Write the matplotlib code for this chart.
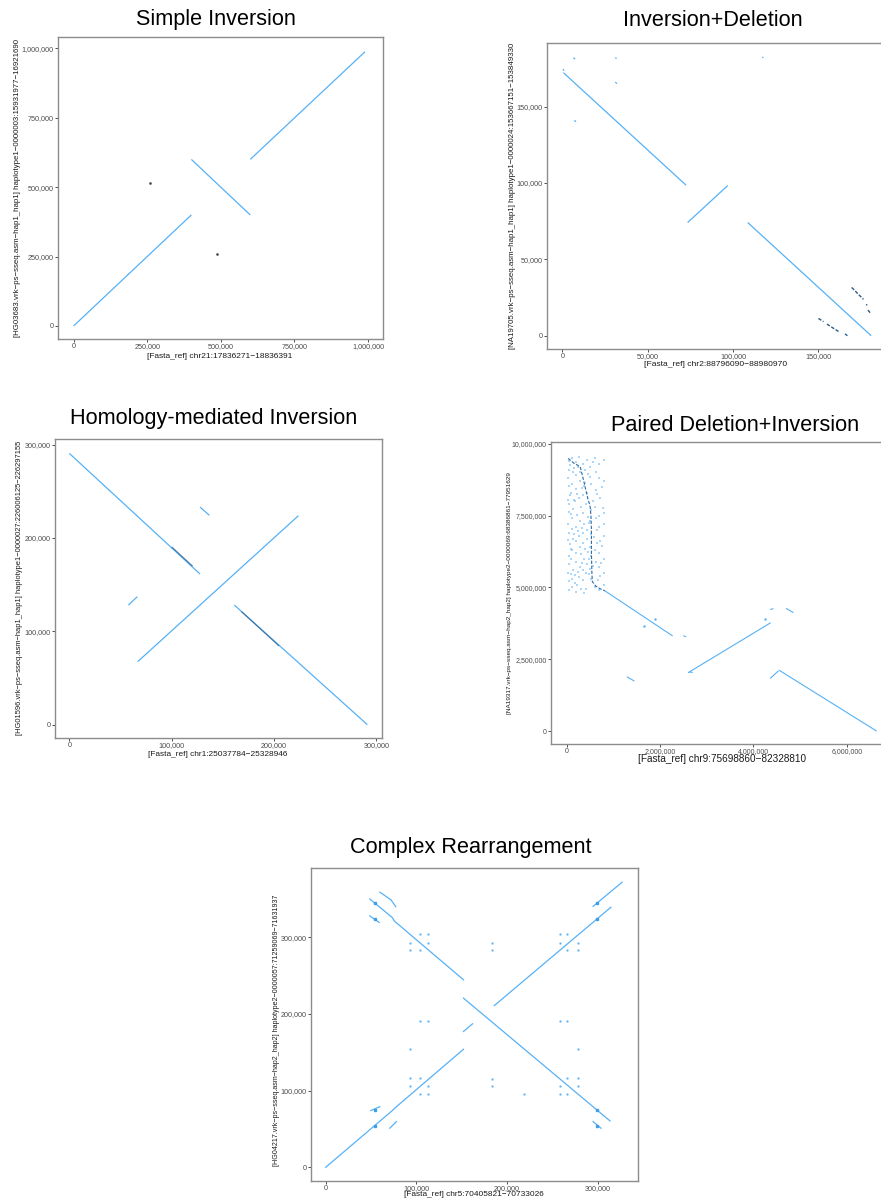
import matplotlib
matplotlib.use("Agg")
import matplotlib.pyplot as plt
from matplotlib.ticker import FixedLocator, StrMethodFormatter

plt.rcParams['font.family'] = ['Liberation Sans', 'DejaVu Sans']

W, H = 881, 1200
HI = '#56B1F7'    # high identity alignments
LO = '#2E5C86'    # lower identity alignments

# --- Simple Inversion -------------------------------------------------------
p1_segments = [(0, 0, 400000, 400000),
               (400000, 600000, 600000, 400000),
               (600000, 600000, 990000, 988000)]
p1_dots = [(258000, 514000), (486000, 258000)]
p1_ticks = [0, 250000, 500000, 750000, 1000000]

# --- Inversion+Deletion -----------------------------------------------------
p2_segments = [(600, 172200, 72500, 98500),
               (73400, 74100, 96900, 98300),
               (108600, 74100, 180900, 0),
               (300, 174500, 1000, 173500),
               (6500, 182000, 7500, 181000),
               (7000, 141000, 8000, 140000),
               (31000, 182000, 31800, 181500),
               (31000, 166000, 32000, 165000),
               (117000, 182300, 117800, 182000)]
p2_dark = [(169500, 31600, 176400, 23800),
           (178000, 20500, 178600, 19900),
           (179000, 16800, 180700, 14600),
           (150000, 11300, 153000, 9200),
           (155000, 7600, 162000, 2600),
           (165600, 1200, 167000, 0)]
p2_ticks = [0, 50000, 100000, 150000]

# --- Homology-mediated Inversion -------------------------------------------
p3_segments = [(0, 290700, 127700, 161400),
               (66800, 67500, 223800, 223900),
               (127700, 233200, 136800, 224300),
               (57700, 128200, 66400, 137100),
               (161200, 128200, 291200, 0)]
p3_dark = [(100000, 190500, 120500, 169800),
           (168000, 121300, 204900, 84300)]
p3_ticks = [0, 100000, 200000, 300000]

# --- Paired Deletion+Inversion (Mb) -----------------------------------------
p4_segments = [(0.82, 4.88, 2.27, 3.31),
               (2.50, 3.32, 2.56, 3.28),
               (2.60, 2.03, 4.37, 3.77),
               (2.62, 2.06, 2.70, 2.04),
               (4.36, 4.23, 4.43, 4.26),
               (4.70, 4.27, 4.86, 4.12),
               (1.29, 1.89, 1.45, 1.74),
               (4.36, 1.83, 4.54, 2.10),
               (4.55, 2.12, 6.64, 0.0)]
p4_dots = [(1.90, 3.90), (1.66, 3.65), (4.24, 3.90)]
p4_dark_x = [0.03, 0.15, 0.29, 0.36, 0.46, 0.50, 0.52, 0.53, 0.53, 0.54,
             0.55, 0.62, 0.72, 0.82]
p4_dark_y = [9.49, 9.33, 9.20, 8.74, 8.04, 7.85, 7.50, 7.00, 6.20, 5.50,
             5.20, 5.05, 4.95, 4.88]
# repeat-rich block of short hits near the start of the contig
p4_block = [
    (0.04, 9.40), (0.06, 9.10), (0.03, 8.80), (0.05, 8.52), (0.07, 8.20),
    (0.04, 7.90), (0.06, 7.62), (0.03, 7.22), (0.05, 6.90), (0.07, 6.52),
    (0.04, 6.10), (0.06, 5.80), (0.03, 5.50), (0.05, 5.22), (0.04, 4.90),
    (0.11, 9.50), (0.13, 9.02), (0.12, 8.60), (0.10, 8.30), (0.14, 7.72),
    (0.12, 7.40), (0.11, 7.02), (0.13, 6.70), (0.12, 6.30), (0.10, 6.00),
    (0.14, 5.60), (0.12, 5.30), (0.11, 5.00), (0.19, 9.35), (0.21, 8.90),
    (0.20, 8.42), (0.18, 8.00), (0.22, 7.52), (0.20, 7.10), (0.19, 6.62),
    (0.21, 6.20), (0.20, 5.90), (0.18, 5.42), (0.22, 5.10), (0.20, 4.85),
    (0.27, 9.55), (0.29, 9.02), (0.28, 8.70), (0.26, 8.12), (0.30, 7.80),
    (0.28, 7.30), (0.27, 6.80), (0.29, 6.42), (0.28, 5.70), (0.26, 5.35),
    (0.30, 4.95), (0.35, 9.30), (0.37, 8.52), (0.36, 8.20), (0.34, 7.60),
    (0.38, 7.22), (0.36, 6.90), (0.35, 6.55), (0.37, 6.00), (0.36, 5.60),
    (0.34, 5.25), (0.38, 4.80), (0.43, 9.45), (0.45, 8.95), (0.44, 8.30),
    (0.42, 7.90), (0.46, 7.45), (0.44, 7.00), (0.43, 6.70), (0.45, 6.22),
    (0.44, 5.80), (0.42, 5.50), (0.51, 9.20), (0.53, 8.60), (0.52, 7.70),
    (0.50, 7.30), (0.53, 6.85), (0.51, 6.40), (0.52, 6.10), (0.50, 5.65),
    (0.53, 5.30), (0.61, 9.50), (0.63, 9.00), (0.62, 8.40), (0.60, 7.80),
    (0.63, 7.40), (0.61, 6.30), (0.62, 5.90), (0.60, 5.00), (0.70, 9.30),
    (0.69, 8.80), (0.71, 8.10), (0.70, 7.50), (0.69, 7.10), (0.71, 6.60),
    (0.70, 6.20), (0.69, 5.70), (0.71, 5.40), (0.70, 4.90), (0.80, 9.45),
    (0.81, 8.70), (0.79, 7.60), (0.80, 7.20), (0.81, 6.80), (0.80, 6.00),
    (0.79, 5.50), (0.81, 5.10), (0.08, 9.25), (0.16, 8.05), (0.24, 6.95),
    (0.32, 5.85), (0.40, 9.10), (0.48, 6.00), (0.57, 8.00), (0.66, 7.00),
    (0.75, 8.50), (0.09, 6.35), (0.17, 5.15), (0.25, 9.20), (0.33, 7.05),
    (0.41, 4.95), (0.49, 8.85), (0.58, 6.75), (0.67, 5.25), (0.76, 6.45),
    (0.02, 8.05), (0.09, 7.55), (0.15, 6.85), (0.23, 8.25), (0.31, 6.15),
    (0.39, 8.65), (0.47, 5.45), (0.56, 9.35), (0.65, 6.55), (0.73, 5.85),
    (0.02, 6.65), (0.10, 5.45), (0.16, 9.15), (0.24, 5.55), (0.32, 8.45),
    (0.40, 6.35), (0.47, 7.25), (0.56, 5.75), (0.64, 8.25), (0.77, 7.75),
]
p4_xticks = [0, 2e6, 4e6, 6e6]
p4_yticks = [0, 2.5e6, 5e6, 7.5e6, 10e6]

# --- Complex Rearrangement --------------------------------------------------
p5_lines = [
    [(0, 0), (74000, 74500), (76000, 77000), (152000, 154000)],
    [(48700, 350000), (73300, 326000), (76000, 321000), (152000, 244700)],
    [(59700, 359000), (72000, 349000), (77300, 340000)],
    [(48600, 328000), (59000, 319500)],
    [(152000, 177200), (162000, 187200)],
    [(152000, 220700), (313600, 60500)],
    [(186000, 211000), (314600, 339300)],
    [(295000, 340500), (327000, 372000)],
    [(295000, 59600), (303600, 51000)],
    [(49800, 74000), (59700, 79000)],
    [(70700, 51000), (78000, 59600)],
]
p5_squares = [(54000, 54400), (299000, 54400), (54000, 344800), (299000, 344800),
              (54000, 324000), (299000, 324300), (299000, 75000), (54000, 75000)]
p5_dots = [(92700, 292700), (92700, 284000), (104400, 304800), (104400, 284000),
           (112800, 304800), (112800, 292700), (183000, 292700), (183000, 284000),
           (258600, 304800), (258600, 292700), (266700, 304800), (266700, 284000),
           (278800, 292700), (278800, 284000), (104400, 191000), (112800, 191000),
           (258600, 191000), (266700, 191000), (92700, 154000), (278800, 154000),
           (92700, 116000), (92700, 106000), (104400, 116000), (104400, 95000),
           (112800, 106000), (112800, 95000), (183000, 115000), (183000, 106000),
           (219000, 95000), (258600, 106000), (258600, 95000), (266700, 116000),
           (266700, 95000), (278800, 116000), (278800, 106000)]
p5_ticks = [0, 100000, 200000, 300000]


fig = plt.figure(figsize=(W / 100, H / 100), dpi=100)


def panel(left, top, right, bottom, tsize=5.2):
    ax = fig.add_axes([left / W, 1 - bottom / H, (right - left) / W, (bottom - top) / H])
    for s in ax.spines.values():
        s.set_color('#8c8c8c')
        s.set_linewidth(1.0)
    ax.tick_params(length=2.2, width=0.6, color='#333333', labelcolor='#4d4d4d',
                   labelsize=tsize, pad=1.0)
    ax.xaxis.set_major_formatter(StrMethodFormatter('{x:,.0f}'))
    ax.yaxis.set_major_formatter(StrMethodFormatter('{x:,.0f}'))
    return ax


def draw_segments(ax, segs, color=HI, lw=0.9, **kw):
    for x0, y0, x1, y1 in segs:
        ax.plot([x0, x1], [y0, y1], color=color, lw=lw, solid_capstyle='butt', **kw)


def label(x, y, s, size=6.0, rot=0):
    fig.text(x / W, 1 - y / H, s, fontsize=size, rotation=rot, color='#1a1a1a',
             ha='center', va='center')


def title(x, y, s):
    fig.text(x / W, 1 - y / H, s, fontsize=15.6, ha='center', va='center', color='black')


# Simple Inversion
ax1 = panel(58, 37, 383, 339)
draw_segments(ax1, p1_segments)
ax1.plot([p[0] for p in p1_dots], [p[1] for p in p1_dots], 's', ms=0.8, color='#444444')
ax1.set_xlim(-53000, 1051000)
ax1.set_ylim(-47000, 1041000)
ax1.xaxis.set_major_locator(FixedLocator(p1_ticks))
ax1.yaxis.set_major_locator(FixedLocator(p1_ticks))
title(216, 20, 'Simple Inversion')
label(220, 357, '[Fasta_ref] chr21:17836271\u221218836391', size=6.0)
label(18, 188, '[HG03683.vrk\u2212ps\u2212sseq.asm\u2212hap1_hap1] haplotype1\u22120000003:15931977\u221216921690',
      size=5.65, rot=90)

# Inversion+Deletion
ax2 = panel(547, 43, 887, 349)
draw_segments(ax2, p2_segments)
draw_segments(ax2, p2_dark, color=LO, lw=1.0, linestyle=(0, (2.5, 1.2)))
ax2.set_xlim(-9000, 190200)
ax2.set_ylim(-8700, 191600)
ax2.xaxis.set_major_locator(FixedLocator(p2_ticks))
ax2.yaxis.set_major_locator(FixedLocator(p2_ticks))
title(713, 20, 'Inversion+Deletion')
label(716, 365, '[Fasta_ref] chr2:88796090\u221288980970', size=6.1)
label(512, 196, '[NA19705.vrk\u2212ps\u2212sseq.asm\u2212hap1_hap1] haplotype1\u22120000024:153667151\u2212153849330',
      size=5.7, rot=90)

# Homology-mediated Inversion
ax3 = panel(55, 439, 382, 738)
draw_segments(ax3, p3_segments)
draw_segments(ax3, p3_dark, color=LO, lw=0.8, alpha=0.8)
ax3.set_xlim(-14000, 305500)
ax3.set_ylim(-14300, 306100)
ax3.xaxis.set_major_locator(FixedLocator(p3_ticks))
ax3.yaxis.set_major_locator(FixedLocator(p3_ticks))
title(214, 418, 'Homology-mediated Inversion')
label(218, 754, '[Fasta_ref] chr1:25037784\u221225328946', size=5.95)
label(20, 588, '[HG01596.vrk\u2212ps\u2212sseq.asm\u2212hap1_hap1] haplotype1\u22120000027:226006125\u2212226297155',
      size=5.4, rot=90)

# Paired Deletion+Inversion
ax4 = panel(551, 442, 892, 744, tsize=5.0)
ax4.scatter([p[0] * 1e6 for p in p4_block], [p[1] * 1e6 for p in p4_block],
            s=0.9, marker='s', color=HI, alpha=0.5, linewidths=0)
draw_segments(ax4, [(a * 1e6, b * 1e6, c * 1e6, d * 1e6) for a, b, c, d in p4_segments], lw=0.8)
ax4.plot([v * 1e6 for v in p4_dark_x], [v * 1e6 for v in p4_dark_y], color='#2f6ba3',
         lw=0.8, linestyle=(0, (3, 1.5)))
ax4.plot([p[0] * 1e6 for p in p4_dots], [p[1] * 1e6 for p in p4_dots], 's', ms=0.7, color=HI)
ax4.set_xlim(-0.336e6, 6.97e6)
ax4.set_ylim(-0.45e6, 10.06e6)
ax4.xaxis.set_major_locator(FixedLocator(p4_xticks))
ax4.yaxis.set_major_locator(FixedLocator(p4_yticks))
title(735, 425, 'Paired Deletion+Inversion')
label(722, 759, '[Fasta_ref] chr9:75698860\u221282328810', size=7.2)
label(509, 593, '[NA19317.vrk\u2212ps\u2212sseq.asm\u2212hap2_hap2] haplotype2\u22120000069:68386861\u221277951629',
      size=4.55, rot=90)

# Complex Rearrangement
ax5 = panel(311, 868, 638, 1181)
for line in p5_lines:
    ax5.plot([p[0] for p in line], [p[1] for p in line], color=HI, lw=0.9)
ax5.plot([p[0] for p in p5_squares], [p[1] for p in p5_squares], 's', ms=1.7, color='#3f9ee8')
ax5.plot([p[0] for p in p5_dots], [p[1] for p in p5_dots], 's', ms=0.7, color=HI, alpha=0.8)
ax5.set_xlim(-16200, 344500)
ax5.set_ylim(-17900, 390500)
ax5.xaxis.set_major_locator(FixedLocator(p5_ticks))
ax5.yaxis.set_major_locator(FixedLocator(p5_ticks))
title(471, 847, 'Complex Rearrangement')
label(474, 1195, '[Fasta_ref] chr5:70405821\u221270733026', size=5.95)
label(276, 1030, '[HG04217.vrk\u2212ps\u2212sseq.asm\u2212hap2_hap2] haplotype2\u22120000057:71259069\u221271631937',
      size=5.15, rot=90)

fig.savefig('out.png', dpi=100)
